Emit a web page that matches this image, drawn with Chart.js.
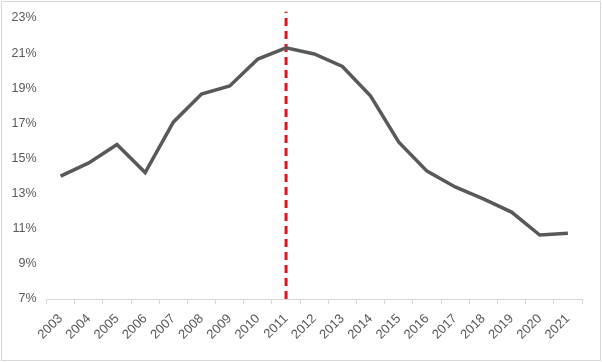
<!DOCTYPE html>
<html>
<head>
<meta charset="utf-8">
<script src="https://cdn.jsdelivr.net/npm/chart.js@4"></script>
<style>
  html, body { margin: 0; padding: 0; background: #fff; }
  #wrap { position: relative; width: 602px; height: 362px; }
  #frame { position: absolute; left: 1px; top: 1px; width: 598px; height: 358px; border: 1px solid #d9d9d9; pointer-events: none; }
</style>
</head>
<body>
<div id="wrap">
  <canvas id="chart" width="602" height="362"></canvas>
  <div id="frame"></div>
</div>
<script>
const years = ['2003', '2004', '2005', '2006', '2007', '2008', '2009', '2010', '2011', '2012',
    '2013', '2014', '2015', '2016', '2017', '2018', '2019', '2020', '2021']
const share_values = [14.0, 14.75, 15.8, 14.2, 17.07, 18.67, 19.13, 20.66, 21.3, 20.95,
    20.24, 18.56, 15.93, 14.28, 13.38, 12.7, 11.95, 10.64, 10.75]
const marker_year = '2011'
const marker_range = [7, 23.35]
const y_ticks = { min: 7, max: 23, step: 2 }

const chart_canvas = document.getElementById('chart')
const label_color = '#595959'

new Chart(chart_canvas, {
    type: 'line',
    data: {
        labels: years,
        datasets: [
            {
                label: 'share',
                data: share_values,
                borderColor: '#595959',
                borderWidth: 3.5,
                pointRadius: 0,
                tension: 0,
                fill: false,
            },
            {
                label: 'marker',
                data: marker_range.map(v => ({ x: marker_year, y: v })),
                borderColor: '#e0141c',
                borderWidth: 3,
                borderDash: [8, 5],
                pointRadius: 0,
                fill: false,
                clip: false,
            }
        ]
    },
    options: {
        responsive: false,
        animation: false,
        layout: { padding: { left: 0, right: 20, top: 18, bottom: 0 } },
        plugins: {
            legend: { display: false },
            tooltip: { enabled: false },
        },
        scales: {
            x: {
                offset: true,
                grid: {
                    display: true,
                    offset: true,
                    drawOnChartArea: false,
                    drawTicks: true,
                    tickLength: 5,
                    color: '#d9d9d9',
                },
                border: { display: true, color: '#d9d9d9', width: 1 },
                ticks: {
                    minRotation: 45,
                    maxRotation: 45,
                    autoSkip: false,
                    font: { family: 'Liberation Sans', size: 13 },
                    color: label_color,
                    padding: 7,
                },
                afterFit: scale => { scale.height = 63 },
            },
            y: {
                min: y_ticks.min,
                max: y_ticks.max,
                grid: { display: false, drawTicks: false },
                border: { display: false },
                ticks: {
                    stepSize: y_ticks.step,
                    font: { family: 'Liberation Sans', size: 12.5 },
                    color: label_color,
                    padding: 10,
                    callback: v => v + '%',
                },
                afterFit: scale => { scale.width = 46.5 },
            }
        }
    }
})
</script>
</body>
</html>
